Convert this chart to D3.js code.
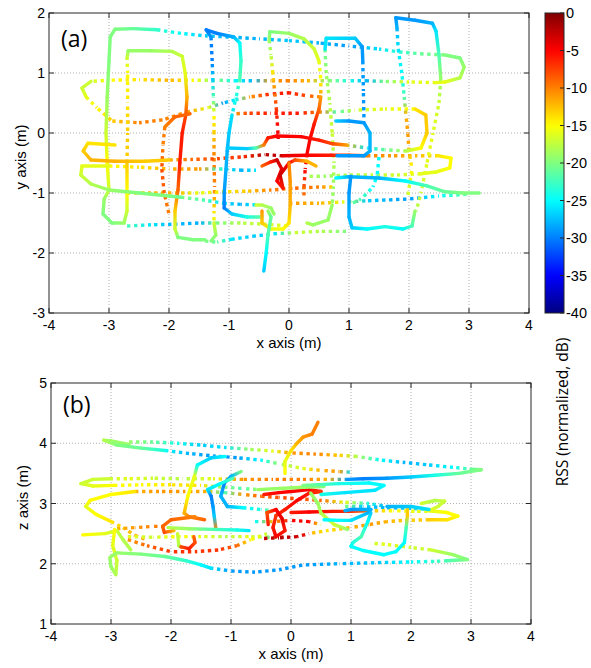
<!DOCTYPE html>
<html><head><meta charset="utf-8">
<script src="https://cdn.jsdelivr.net/npm/d3@7"></script>
<style>body{margin:0;background:#fff} svg text{font-family:"Liberation Sans",Arial,sans-serif;fill:#000}</style>
</head><body><svg id="c" width="591" height="668"></svg>
<script>
// ---------- data ----------
const xTicks = [-4,-3,-2,-1,0,1,2,3,4];
const yTicksA = [-3,-2,-1,0,1,2];
const zTicksB = [1,2,3,4,5];
const cbTicks = [0,-5,-10,-15,-20,-25,-30,-35,-40];
const rssDomain = [-40, 0];

// panel (a): tracks of [x, y, rss]; slow (dense) segments
const denseA = [
 [[-2.2,1.72,-23],[-2.6,1.74,-21],[-2.9,1.73,-20],[-2.98,1.6,-20],[-3.0,1.2,-20],[-3.03,0.6,-19],[-3.05,0.0,-17],[-3.03,-0.5,-15],[-3.0,-0.95,-17],[-3.08,-1.1,-19],[-3.1,-1.35,-20],[-2.95,-1.5,-20],[-2.75,-1.5,-19],[-2.7,-1.3,-17],[-2.7,-1.0,-15],[-2.7,-0.5,-13]],
 [[-2.7,1.25,-17],[-2.68,1.37,-19],[-2.3,1.37,-19],[-1.95,1.36,-18],[-1.78,1.28,-17],[-1.73,1.0,-16],[-1.7,0.6,-12],[-1.72,0.3,-8],[-1.78,0.0,-6],[-1.82,-0.5,-6],[-1.85,-0.95,-9],[-1.9,-1.3,-13],[-1.9,-1.6,-17],[-1.85,-1.74,-20],[-1.6,-1.78,-20],[-1.4,-1.78,-20]],
 [[2.6,1.3,-20],[2.85,1.25,-20],[2.92,1.1,-19],[2.85,0.92,-18],[2.6,0.85,-16],[2.45,0.84,-16]],
 [[-3.3,0.86,-17],[-3.45,0.75,-17],[-3.38,0.6,-16]],
 [[-0.33,1.55,-19],[-0.32,1.69,-20],[0.0,1.66,-19],[0.25,1.57,-18],[0.42,1.4,-17],[0.5,1.2,-16]],
 [[0.53,0.6,-11],[0.5,0.4,-9],[0.42,0.15,-6],[0.35,-0.1,-5],[0.3,-0.35,-5]],
 [[-1.3,1.6,-29],[-1.38,1.72,-30],[-1.2,1.66,-30],[-0.92,1.6,-28],[-0.82,1.5,-25],[-0.8,1.2,-23],[-0.82,0.9,-22]],
 [[-0.95,0.3,-26],[-1.0,0.0,-27],[-1.03,-0.3,-28],[-1.05,-0.6,-28],[-1.08,-1.0,-29],[-1.08,-1.25,-30],[-0.95,-1.35,-27],[-0.7,-1.4,-24],[-0.45,-1.4,-21]],
 [[-1.03,-0.25,-27],[-0.7,-0.26,-27],[-0.55,-0.25,-22],[-0.42,-0.2,-10],[-0.35,-0.08,-6],[-0.2,-0.05,-5],[0.2,-0.06,-5],[0.5,-0.12,-6],[0.73,-0.18,-8],[0.95,-0.2,-11]],
 [[1.95,-0.3,-18],[2.2,-0.25,-15],[2.3,0.0,-13],[2.28,0.3,-13],[2.1,0.4,-14]],
 [[-0.1,-0.38,-4],[0.3,-0.37,-5],[0.7,-0.37,-6],[1.0,-0.37,-8],[1.3,-0.38,-10]],
 [[2.5,-0.38,-14],[2.7,-0.42,-15],[2.68,-0.58,-15],[2.45,-0.65,-16],[2.2,-0.68,-16]],
 [[0.78,0.2,-27],[1.0,0.2,-29],[1.25,0.17,-29],[1.35,0.0,-28],[1.35,-0.3,-28],[1.25,-0.38,-29],[0.8,-0.38,-29]],
 [[1.8,1.75,-28],[1.78,1.92,-29],[2.1,1.88,-29],[2.39,1.83,-28],[2.45,1.7,-26],[2.5,1.3,-22],[2.53,0.9,-19]],
 [[0.78,-0.75,-25],[1.0,-0.73,-28],[1.5,-0.75,-28],[1.94,-0.8,-25],[2.3,-0.88,-22],[2.6,-0.98,-21],[2.9,-1.0,-20],[3.17,-1.0,-20]],
 [[1.03,-0.72,-29],[1.0,-1.0,-29],[1.0,-1.4,-28],[1.05,-1.58,-27],[1.3,-1.6,-25],[1.6,-1.56,-24],[1.9,-1.6,-25],[2.05,-1.55,-22],[2.1,-1.3,-19]],
 [[-0.45,-0.55,-9],[-0.3,-0.48,-6],[-0.2,-0.45,-3],[-0.12,-0.6,-4],[-0.2,-0.8,-5],[-0.1,-0.92,-6],[-0.15,-0.7,-3],[0.0,-0.5,-5],[0.1,-0.45,-8],[0.3,-0.47,-12],[0.45,-0.55,-12]],
 [[0.0,-0.5,-10],[0.02,-0.8,-11],[0.02,-1.2,-12],[0.0,-1.5,-14],[-0.1,-1.6,-15],[-0.3,-1.6,-16],[-0.45,-1.5,-13],[-0.45,-1.3,-11]],
 [[-0.35,-1.3,-19],[-0.3,-1.4,-21],[-0.35,-1.7,-22],[-0.38,-2.0,-25],[-0.42,-2.3,-27]],
 [[-0.55,-1.2,-17],[-0.45,-1.2,-18],[-0.3,-1.25,-19],[-0.25,-1.35,-19]],
 [[-3.0,-0.55,-16],[-3.45,-0.55,-16],[-3.47,-0.7,-17],[-3.3,-0.85,-18],[-3.0,-0.95,-19],[-2.5,-1.0,-20],[-2.0,-1.05,-20],[-1.8,-1.07,-21]],
 [[-2.9,-0.2,-14],[-3.35,-0.17,-14],[-3.43,-0.3,-13],[-3.3,-0.45,-12],[-2.9,-0.47,-12],[-2.4,-0.47,-13],[-2.0,-0.45,-13]],
 [[-1.65,0.32,-9],[-1.9,0.27,-9],[-2.07,0.1,-10]],
 [[-1.25,-1.5,-17],[-1.22,-1.7,-19],[-1.3,-1.8,-20]],
 [[0.6,1.4,-26],[0.62,1.58,-26],[1.1,1.58,-27],[1.22,1.44,-29],[1.23,1.2,-29]],
 [[0.72,-1.2,-19],[0.65,-1.45,-19],[0.4,-1.53,-19],[0.3,-1.5,-18]]
];
// panel (a): fast (sparse, dotted) segments
const dottedA = [
 [[-2.2,1.72,-23],[-1.8,1.66,-25],[-1.4,1.62,-27],[-1.0,1.6,-28],[-0.5,1.57,-28],[0,1.54,-27],[0.5,1.5,-28],[1.0,1.45,-29],[1.5,1.4,-26],[1.85,1.35,-23],[2.2,1.32,-21],[2.6,1.3,-20]],
 [[2.45,0.84,-16],[2.0,0.85,-16],[1.6,0.86,-20],[1.3,0.87,-28],[1.0,0.87,-24],[0.7,0.87,-20],[0.3,0.87,-12],[0.0,0.87,-10],[-0.3,0.87,-11],[-0.6,0.87,-28],[-0.9,0.87,-25],[-1.2,0.88,-20],[-1.6,0.88,-15],[-2.0,0.88,-12],[-2.5,0.89,-14],[-3.0,0.88,-15],[-3.3,0.86,-17]],
 [[-3.38,0.6,-16],[-3.2,0.42,-15],[-2.95,0.2,-13],[-2.5,0.17,-10],[-2.1,0.22,-10],[-1.7,0.35,-11],[-1.35,0.42,-16],[-1.1,0.5,-29],[-0.9,0.55,-25],[-0.65,0.6,-11],[-0.3,0.65,-6],[0.0,0.67,-6],[0.3,0.62,-8],[0.53,0.6,-11]],
 [[-2.7,-0.5,-13],[-2.69,0.0,-13],[-2.69,0.5,-14],[-2.69,1.0,-15],[-2.7,1.25,-17]],
 [[0.5,1.2,-16],[0.53,0.9,-15],[0.53,0.6,-11]],
 [[0.3,-0.35,-5],[0.27,-0.6,-5],[0.25,-0.9,-8],[0.25,-1.1,-10]],
 [[-0.33,1.55,-19],[-0.3,1.3,-18],[-0.27,1.0,-14],[-0.24,0.7,-10],[-0.21,0.4,-7],[-0.19,0.1,-5],[-0.18,-0.1,-4]],
 [[-0.82,0.9,-22],[-0.88,0.6,-24],[-0.95,0.3,-26]],
 [[-1.3,1.6,-30],[-1.28,1.2,-30],[-1.27,0.9,-27],[-1.26,0.6,-22],[-1.25,0.3,-15],[-1.25,0.0,-13],[-1.25,-0.4,-10],[-1.24,-0.9,-10],[-1.25,-1.3,-14],[-1.25,-1.5,-16]],
 [[0.95,-0.2,-12],[1.3,-0.25,-26],[1.6,-0.28,-21],[1.95,-0.3,-18]],
 [[2.1,0.4,-15],[1.6,0.4,-16],[1.1,0.38,-17],[0.8,0.35,-22],[0.5,0.35,-10],[0.2,0.33,-6],[-0.3,0.33,-6],[-0.7,0.33,-8],[-0.9,0.32,-11]],
 [[1.3,-0.38,-10],[1.7,-0.38,-11],[2.1,-0.38,-12],[2.5,-0.38,-14]],
 [[-0.1,-0.38,-3],[-0.4,-0.36,-2],[-0.8,-0.4,-7],[-1.2,-0.43,-8],[-1.6,-0.44,-9],[-2.0,-0.45,-12]],
 [[2.2,-0.68,-16],[1.8,-0.7,-17],[1.4,-0.7,-17],[1.0,-0.7,-18],[0.6,-0.72,-19],[0.3,-0.72,-18]],
 [[-3.0,-0.55,-15],[-2.5,-0.57,-14],[-2.0,-0.6,-12],[-1.5,-0.6,-11],[-1.1,-0.6,-24],[-0.8,-0.62,-28],[-0.55,-0.62,-26]],
 [[-1.8,-1.07,-20],[-1.4,-1.12,-22],[-1.1,-1.17,-26],[-0.8,-1.19,-28],[-0.5,-1.2,-25]],
 [[-2.7,-1.0,-14],[-2.3,-1.0,-12],[-1.9,-1.0,-12],[-1.5,-1.0,-16],[-1.1,-0.98,-14],[-0.7,-0.97,-13],[-0.3,-0.95,-10],[0.1,-0.92,-9],[0.5,-0.9,-10],[0.75,-0.9,-14]],
 [[0.0,-1.17,-11],[0.5,-1.17,-12],[0.9,-1.15,-16],[1.3,-1.13,-27],[2.0,-1.1,-29],[2.5,-1.05,-25],[3.0,-1.02,-21]],
 [[-1.4,-1.8,-20],[-1.2,-1.82,-21],[-0.95,-1.77,-26],[-0.6,-1.72,-27],[-0.25,-1.68,-26],[0.1,-1.66,-17],[0.5,-1.64,-18],[0.95,-1.64,-20]],
 [[1.8,1.75,-28],[1.82,1.4,-26],[1.88,1.0,-25],[1.92,0.6,-22],[1.95,0.3,-12],[1.98,0.0,-11],[2.0,-0.3,-12],[2.05,-0.6,-15],[1.98,-1.05,-17]],
 [[2.53,0.9,-19],[2.5,0.5,-17],[2.4,0.0,-16],[2.3,-0.5,-16],[2.2,-1.0,-17],[2.12,-1.3,-18]],
 [[1.23,1.2,-29],[1.24,0.7,-29],[1.25,0.2,-29]],
 [[0.6,1.4,-21],[0.62,1.0,-19],[0.68,0.5,-18],[0.72,0.0,-17],[0.75,-0.5,-18],[0.74,-0.9,-19],[0.72,-1.2,-19]],
 [[1.5,-0.4,-25],[1.47,-0.7,-25],[1.4,-0.9,-25],[1.2,-1.1,-22],[1.0,-1.2,-21]],
 [[-2.07,0.1,-10],[-2.1,-0.2,-10],[-2.12,-0.6,-8],[-2.08,-1.0,-9],[-2.0,-1.35,-10]],
 [[-2.7,-1.55,-22],[-2.3,-1.53,-26],[-1.9,-1.52,-28],[-1.5,-1.5,-28],[-1.2,-1.5,-20],[-0.8,-1.5,-18],[-0.4,-1.52,-17],[0.0,-1.55,-16]]
];

// panel (b): tracks of [x, z, rss]
const denseB = [
 [[-2.7,3.98,-19],[-3.0,4.04,-19],[-3.12,4.05,-18],[-2.9,3.97,-20],[-2.5,3.92,-21],[-2.1,3.88,-24]],
 [[3.0,3.57,-21],[3.17,3.56,-20],[2.8,3.5,-21],[2.4,3.47,-24],[2.0,3.44,-27],[1.6,3.42,-29],[1.2,3.41,-30],[0.95,3.4,-29]],
 [[-3.0,3.41,-17],[-3.3,3.4,-17],[-3.5,3.33,-17],[-3.3,3.29,-16],[-2.95,3.3,-15]],
 [[-2.6,3.2,-14],[-3.0,3.15,-15],[-3.35,3.05,-15],[-3.42,2.95,-16],[-3.25,2.82,-15],[-3.0,2.7,-14]],
 [[-1.1,3.78,-25],[-1.33,3.76,-27],[-1.56,3.64,-25],[-1.61,3.45,-16],[-1.72,3.12,-15],[-1.78,2.84,-12],[-1.7,2.78,-10],[-1.44,2.73,-9]],
 [[-0.83,3.53,-20],[-1.0,3.45,-28],[-1.11,3.34,-30],[-1.17,3.12,-28],[-1.06,2.95,-28],[-0.8,2.93,-25]],
 [[-0.97,3.42,-22],[-1.2,3.32,-25],[-1.39,3.23,-26],[-1.33,3.12,-30],[-1.3,2.95,-29],[-1.28,2.79,-27],[-1.25,2.57,-10]],
 [[-1.6,2.78,-10],[-2.0,2.73,-9],[-2.14,2.62,-9],[-2.11,2.52,-8],[-1.95,2.55,-12]],
 [[-2.05,2.6,-18],[-1.7,2.58,-19],[-1.3,2.57,-22],[-0.9,2.56,-24],[-0.7,2.55,-26]],
 [[-1.89,2.5,-17],[-1.87,2.3,-18],[-1.83,2.28,-8],[-1.7,2.25,-6],[-1.6,2.35,-8],[-1.62,2.45,-9]],
 [[-3.47,2.48,-15],[-3.1,2.5,-16],[-2.9,2.55,-17],[-2.8,2.4,-18],[-2.67,2.23,-18]],
 [[-2.94,2.57,-15],[-2.97,2.3,-16],[-2.9,2.05,-17],[-2.92,1.82,-18],[-3.0,1.95,-19],[-3.02,2.1,-19]],
 [[-3.0,2.12,-19],[-2.9,2.18,-19],[-2.5,2.16,-20],[-2.1,2.12,-21],[-1.75,2.05,-23],[-1.5,1.98,-25],[-1.35,1.93,-26]],
 [[2.6,2.05,-22],[2.94,2.07,-20],[2.7,2.15,-19],[2.33,2.23,-17]],
 [[-0.1,3.5,-15],[-0.1,3.7,-16],[0.0,3.88,-14],[0.1,4.0,-12],[0.2,4.1,-11],[0.35,4.15,-10],[0.45,4.35,-10]],
 [[-0.45,3.15,-6],[-0.2,3.18,-5],[0.0,3.2,-5],[0.3,3.23,-5],[0.5,3.2,-7],[0.3,3.17,-6],[0.1,3.05,-5],[-0.1,2.9,-6],[-0.25,2.8,-7],[-0.3,2.6,-6],[-0.25,2.45,-5],[-0.1,2.55,-6],[-0.15,2.75,-4],[-0.25,2.9,-5],[-0.4,2.85,-8],[-0.38,2.65,-6]],
 [[0.0,2.85,-6],[0.3,2.86,-5],[0.7,2.87,-6],[1.0,2.87,-7],[1.28,2.88,-9]],
 [[-0.55,3.23,-19],[-0.2,3.25,-19],[0.2,3.27,-19],[0.55,3.28,-20]],
 [[0.33,3.17,-19],[0.45,3.0,-19],[0.5,2.84,-18],[0.72,2.65,-17],[0.94,2.57,-19]],
 [[0.2,3.3,-20],[0.8,3.33,-24],[1.3,3.34,-25],[1.55,3.3,-25],[1.4,3.22,-26],[0.9,3.18,-26],[0.5,3.15,-24]],
 [[0.55,2.73,-25],[0.8,2.72,-25],[1.0,2.72,-26],[1.3,2.85,-28],[1.33,2.9,-28],[1.0,2.9,-29],[0.9,2.88,-28]],
 [[1.94,2.95,-13],[1.94,2.8,-13],[1.92,2.6,-22],[1.89,2.35,-25],[1.75,2.2,-25],[1.55,2.15,-25],[1.2,2.22,-25],[1.0,2.29,-25],[1.03,2.35,-24],[1.17,2.45,-22],[1.28,2.7,-25],[1.33,2.84,-27]],
 [[2.17,3.0,-17],[2.4,3.05,-18],[2.56,3.04,-17],[2.45,2.95,-17],[2.3,2.88,-16],[2.6,2.85,-15],[2.78,2.79,-15],[2.6,2.73,-14],[2.3,2.73,-13]],
 [[1.6,2.95,-28],[2.0,2.95,-27],[2.3,2.9,-26]]
];
const dottedB = [
 [[-2.7,4.02,-19],[-2.3,4.02,-21],[-1.9,4.0,-24],[-1.5,3.97,-27],[-1.1,3.93,-26],[-0.7,3.9,-19],[-0.3,3.87,-16],[0.0,3.84,-11],[0.4,3.82,-10],[0.8,3.8,-13],[1.1,3.78,-18],[1.5,3.72,-25],[1.9,3.68,-28],[2.3,3.64,-27],[2.7,3.6,-25],[3.0,3.57,-21]],
 [[-2.1,3.88,-25],[-1.7,3.83,-28],[-1.3,3.79,-29],[-0.9,3.76,-29],[-0.5,3.72,-25],[-0.2,3.66,-19],[0.2,3.58,-16],[0.5,3.55,-12],[0.8,3.53,-11],[1.0,3.52,-26]],
 [[0.95,3.4,-29],[0.6,3.4,-12],[0.2,3.4,-10],[-0.3,3.4,-10],[-0.8,3.4,-11],[-1.3,3.41,-16],[-1.8,3.41,-18],[-2.3,3.42,-17],[-2.7,3.41,-16],[-3.0,3.41,-17]],
 [[-2.95,3.3,-15],[-2.5,3.31,-15],[-2.0,3.31,-14],[-1.5,3.3,-14],[-1.1,3.27,-20],[-0.8,3.25,-22],[-0.55,3.23,-19]],
 [[-2.6,3.2,-12],[-2.2,3.2,-11],[-1.8,3.2,-11],[-1.4,3.2,-12],[-1.1,3.18,-22],[-0.8,3.15,-11],[-0.5,3.12,-9],[-0.2,3.1,-8],[0.1,3.08,-8],[0.5,3.05,-9],[0.9,3.02,-16],[1.3,3.0,-24],[1.6,2.95,-28]],
 [[-3.0,2.7,-14],[-2.8,2.6,-13],[-2.6,2.47,-12],[-2.4,2.4,-11]],
 [[-2.9,2.58,-12],[-2.6,2.6,-11],[-2.3,2.62,-10],[-2.1,2.62,-10]],
 [[-2.72,2.45,-16],[-2.3,2.44,-17],[-1.9,2.45,-15],[-1.5,2.45,-16],[-1.1,2.45,-18],[-0.7,2.45,-16],[-0.4,2.44,-20],[-0.1,2.44,-3]],
 [[-2.72,2.4,-11],[-2.4,2.3,-9],[-2.0,2.2,-7],[-1.6,2.2,-7],[-1.2,2.23,-7],[-0.9,2.3,-9],[-0.67,2.4,-15],[-0.4,2.5,-17]],
 [[-1.35,1.93,-26],[-1.0,1.88,-29],[-0.6,1.86,-29],[-0.2,1.9,-29],[0.2,1.98,-29],[0.8,2.0,-28],[1.5,2.02,-27],[2.0,2.03,-25],[2.4,2.04,-23],[2.6,2.05,-22]],
 [[2.33,2.23,-17],[2.0,2.27,-17],[1.6,2.32,-16],[1.33,2.34,-17]],
 [[2.3,2.73,-13],[1.9,2.72,-13],[1.6,2.7,-12],[1.3,2.65,-11],[1.0,2.6,-12],[0.6,2.55,-14],[0.3,2.5,-12]],
 [[-0.45,2.42,-3],[-0.2,2.43,-2],[0.1,2.45,-3],[0.3,2.5,-6]],
 [[-0.6,2.7,-25],[-0.3,2.7,-12],[0.0,2.72,-5],[0.3,2.7,-5],[0.5,2.65,-15]],
 [[0.9,2.95,-20],[1.2,2.95,-27],[1.6,2.93,-28],[2.0,2.92,-27],[2.3,2.9,-20]],
 [[1.28,2.88,-12],[1.7,2.88,-15],[2.1,2.87,-16],[2.4,2.87,-16]],
 [[-0.8,2.93,-25],[-0.5,2.9,-24],[-0.3,2.88,-20]]
];

// ---------- drawing ----------
const svg = d3.select("#c");
const defs = svg.append("defs");
const jet = t => {
  t = Math.max(0, Math.min(1, t));
  const c = v => Math.round(255 * Math.max(0, Math.min(1, v)));
  return `rgb(${c(1.5-Math.abs(4*t-3))},${c(1.5-Math.abs(4*t-2))},${c(1.5-Math.abs(4*t-1))})`;
};
const tScale = d3.scaleLinear().domain(rssDomain).range([0,1]);
const color = v => jet(tScale(v));
let gid = 0;
const axisColor = "#262626";
const labelFont = "'Liberation Sans Narrow','Liberation Sans',Arial,sans-serif";

function panel(cfg) {
  const {x0,x1,y0,y1,xDom,yDom,yTicks,tag,yLabel,tagY} = cfg;
  const xs = d3.scaleLinear().domain(xDom).range([x0,x1]);
  const ys = d3.scaleLinear().domain(yDom).range([y1,y0]);
  const g = svg.append("g");
  const clipId = "clip" + tag;
  defs.append("clipPath").attr("id", clipId).append("rect")
    .attr("x", x0).attr("y", y0).attr("width", x1-x0).attr("height", y1-y0);
  // grid
  g.selectAll(".gx").data(xTicks.slice(1,-1)).join("line")
    .attr("x1", d=>xs(d)).attr("x2", d=>xs(d)).attr("y1", y0).attr("y2", y1)
    .attr("stroke", "#a0a0a0").attr("stroke-width", 0.8).attr("stroke-dasharray", "1 2");
  g.selectAll(".gy").data(yTicks.slice(1,-1)).join("line")
    .attr("y1", d=>ys(d)).attr("y2", d=>ys(d)).attr("x1", x0).attr("x2", x1)
    .attr("stroke", "#a0a0a0").attr("stroke-width", 0.8).attr("stroke-dasharray", "1 2");
  // tracks
  const tg = g.append("g").attr("clip-path", `url(#${clipId})`);
  const drawTrack = (pts, dotted) => {
    let cum = 0;
    for (let i = 0; i < pts.length - 1; i++) {
      const a = pts[i], b = pts[i+1];
      const ax = xs(a[0]), ay = ys(a[1]), bx = xs(b[0]), by = ys(b[1]);
      const len = Math.hypot(bx-ax, by-ay);
      let stroke;
      if (len < 0.5) stroke = color((a[2]+b[2])/2);
      else {
        const id = "gr" + (gid++);
        const lg = defs.append("linearGradient").attr("id", id)
          .attr("gradientUnits", "userSpaceOnUse")
          .attr("x1", ax).attr("y1", ay).attr("x2", bx).attr("y2", by);
        lg.append("stop").attr("offset", 0).attr("stop-color", color(a[2]));
        lg.append("stop").attr("offset", 1).attr("stop-color", color(b[2]));
        stroke = `url(#${id})`;
      }
      const ln = tg.append("line").attr("x1", ax).attr("y1", ay).attr("x2", bx).attr("y2", by)
        .attr("stroke", stroke).attr("stroke-width", 3.4);
      if (dotted) ln.attr("stroke-dasharray", "3.4 3.6").attr("stroke-dashoffset", -cum % 7);
      else ln.attr("stroke-linecap", "round");
      cum += len;
    }
  };
  cfg.dotted.forEach(t => drawTrack(t, true));
  cfg.dense.forEach(t => drawTrack(t, false));
  // box
  g.append("rect").attr("x", x0).attr("y", y0).attr("width", x1-x0).attr("height", y1-y0)
    .attr("fill", "none").attr("stroke", axisColor).attr("stroke-width", 1);
  // ticks (inside, mirrored)
  const tl = 5;
  xTicks.forEach(v => {
    g.append("line").attr("x1", xs(v)).attr("x2", xs(v)).attr("y1", y1).attr("y2", y1-tl).attr("stroke", axisColor);
    g.append("line").attr("x1", xs(v)).attr("x2", xs(v)).attr("y1", y0).attr("y2", y0+tl).attr("stroke", axisColor);
    g.append("text").attr("x", xs(v)).attr("y", y1 + 17).attr("text-anchor", "middle")
      .attr("font-size", 14).text(v);
  });
  yTicks.forEach(v => {
    g.append("line").attr("x1", x0).attr("x2", x0+tl).attr("y1", ys(v)).attr("y2", ys(v)).attr("stroke", axisColor);
    g.append("line").attr("x1", x1).attr("x2", x1-tl).attr("y1", ys(v)).attr("y2", ys(v)).attr("stroke", axisColor);
    g.append("text").attr("x", x0 - 4).attr("y", ys(v) + 5).attr("text-anchor", "end")
      .attr("font-size", 14).text(v);
  });
  g.append("text").attr("x", (x0+x1)/2).attr("y", y1 + 35).attr("text-anchor", "middle")
    .attr("font-size", 15).style("font-family", labelFont).text("x axis (m)");
  g.append("text").attr("transform", `translate(${x0-23},${(y0+y1)/2 - 6}) rotate(-90)`)
    .attr("text-anchor", "middle").attr("font-size", 15).style("font-family", labelFont).text(yLabel);
  g.append("text").attr("x", x0 + 12).attr("y", tagY).attr("font-size", 23)
    .style("font-family", "'Open Sans',sans-serif").text(`(${tag})`);
}

panel({x0:49, x1:529, y0:13, y1:313, xDom:[-4,4], yDom:[-3,2], yTicks:yTicksA, tag:"a",
  yLabel:"y axis (m)", tagY:47, dense:denseA, dotted:dottedA});
panel({x0:51, x1:531, y0:383, y1:624, xDom:[-4,4], yDom:[1,5], yTicks:zTicksB, tag:"b",
  yLabel:"z axis (m)", tagY:413, dense:denseB, dotted:dottedB});

// colorbar
const cbX = 545, cbW = 19, cbY0 = 13, cbY1 = 313;
const cbs = d3.scaleLinear().domain(rssDomain).range([cbY1, cbY0]);
const cg = defs.append("linearGradient").attr("id", "cbg").attr("x1", 0).attr("y1", 1).attr("x2", 0).attr("y2", 0);
d3.range(0, 1.0001, 0.02).forEach(t => cg.append("stop").attr("offset", t).attr("stop-color", jet(t)));
svg.append("rect").attr("x", cbX).attr("y", cbY0).attr("width", cbW).attr("height", cbY1-cbY0)
  .attr("fill", "url(#cbg)").attr("stroke", axisColor).attr("stroke-width", 1);
cbTicks.forEach(v => {
  svg.append("line").attr("x1", cbX+cbW).attr("x2", cbX+cbW-4).attr("y1", cbs(v)).attr("y2", cbs(v)).attr("stroke", axisColor);
  svg.append("text").attr("x", cbX+cbW+2).attr("y", cbs(v)+5).attr("font-size", 14.5).text(v);
});
svg.append("text").attr("transform", "translate(568,412) rotate(-90)").attr("text-anchor", "middle")
  .attr("font-size", 15.5).style("font-family", "'Open Sans',sans-serif").text("RSS (normalized, dB)");
</script></body></html>
